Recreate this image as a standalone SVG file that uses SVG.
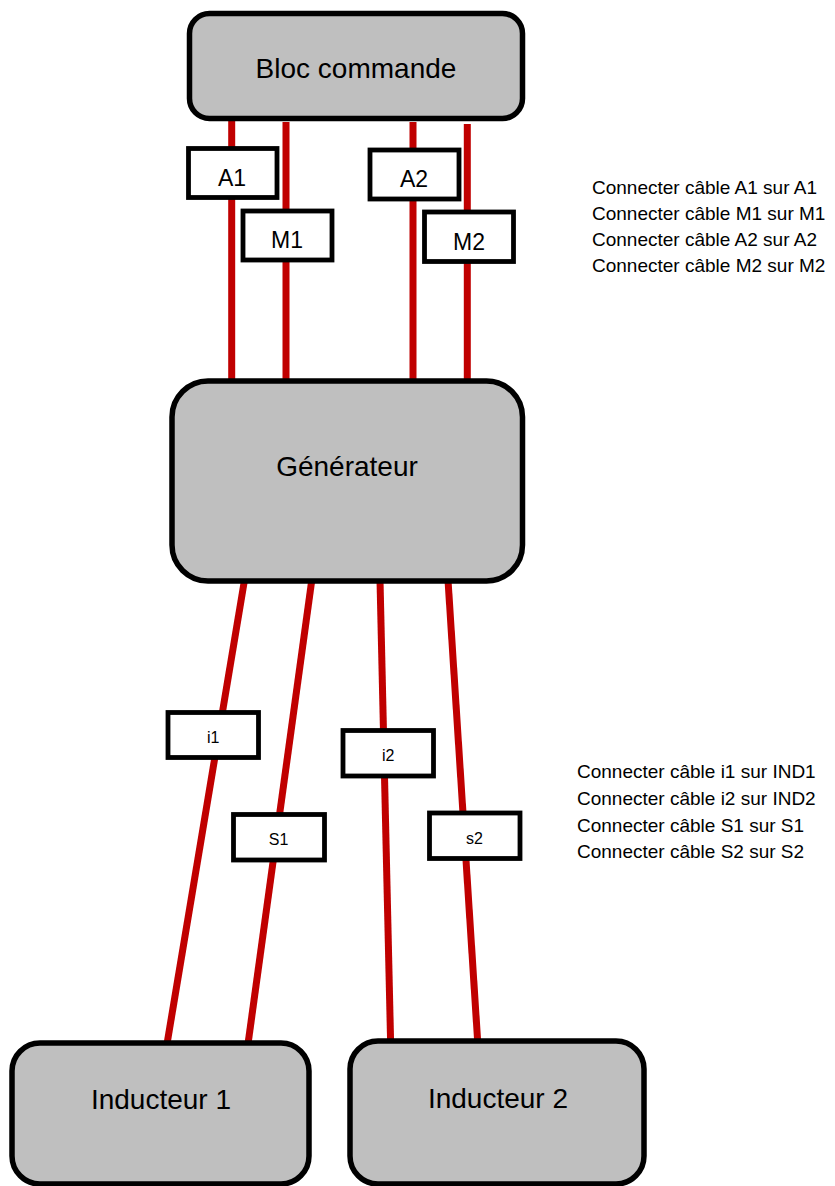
<svg xmlns="http://www.w3.org/2000/svg" width="835" height="1186" viewBox="0 0 835 1186">
<style>
.node{fill:#BFBFBF;stroke:#000;stroke-width:5.5}
.lbl{fill:#fff;stroke:#000;stroke-width:4.8}
.wire{stroke:#C00000;stroke-width:7;fill:none}
text{font-family:"Liberation Sans",Arial,sans-serif;fill:#000;text-anchor:middle}
.big{font-size:28px}
.mid{font-size:23px}
.sm{font-size:16px}
.note{font-size:19px;text-anchor:start}
</style>
<g id="connectors">
<line class="wire" x1="231.7" y1="119" x2="231.7" y2="382"/>
<line class="wire" x1="286" y1="122" x2="286" y2="382"/>
<line class="wire" x1="413" y1="122" x2="413" y2="382"/>
<line class="wire" x1="467.3" y1="124" x2="467.3" y2="382"/>
<line class="wire" x1="244.5" y1="580" x2="167" y2="1044"/>
<line class="wire" x1="311.8" y1="580" x2="248" y2="1044"/>
<line class="wire" x1="380" y1="580" x2="390.6" y2="1042"/>
<line class="wire" x1="448" y1="580" x2="477.7" y2="1042"/>
</g>
<g id="bloc-commande">
<rect class="node" x="189.5" y="13.5" width="333" height="105" rx="20"/>
<text class="big" x="356" y="78">Bloc commande</text>
</g>
<g id="generateur">
<rect class="node" x="172" y="381" width="350.5" height="200" rx="36"/>
<text class="big" x="347" y="476">Générateur</text>
</g>
<g id="inducteur-1">
<rect class="node" x="12" y="1043" width="297" height="141" rx="28"/>
<text class="big" x="161" y="1109">Inducteur 1</text>
</g>
<g id="inducteur-2">
<rect class="node" x="350" y="1041" width="294" height="143" rx="28"/>
<text class="big" x="498" y="1108">Inducteur 2</text>
</g>
<g id="label-A1">
<rect class="lbl" x="188.5" y="148.5" width="88.5" height="49"/>
<text class="mid" x="232" y="186">A1</text>
</g>
<g id="label-M1">
<rect class="lbl" x="243" y="211" width="89" height="49"/>
<text class="mid" x="287" y="248">M1</text>
</g>
<g id="label-A2">
<rect class="lbl" x="370" y="150" width="89" height="49"/>
<text class="mid" x="414" y="187">A2</text>
</g>
<g id="label-M2">
<rect class="lbl" x="424.5" y="212" width="89" height="49.5"/>
<text class="mid" x="469" y="249.5">M2</text>
</g>
<g id="label-i1">
<rect class="lbl" x="168" y="712.5" width="90.5" height="45"/>
<text class="sm" x="213.3" y="743">i1</text>
</g>
<g id="label-i2">
<rect class="lbl" x="343" y="730.5" width="90.5" height="45.5"/>
<text class="sm" x="388.3" y="761">i2</text>
</g>
<g id="label-S1">
<rect class="lbl" x="233.5" y="814.5" width="91" height="45.5"/>
<text class="sm" x="278.5" y="845">S1</text>
</g>
<g id="label-s2">
<rect class="lbl" x="429.5" y="813" width="90.5" height="45.5"/>
<text class="sm" x="474.5" y="843.5">s2</text>
</g>
<g id="notes-top">
<text class="note" x="592" y="194">Connecter câble A1 sur A1</text>
<text class="note" x="592" y="220">Connecter câble M1 sur M1</text>
<text class="note" x="592" y="246">Connecter câble A2 sur A2</text>
<text class="note" x="592" y="272">Connecter câble M2 sur M2</text>
</g>
<g id="notes-bottom">
<text class="note" x="577" y="778">Connecter câble i1 sur IND1</text>
<text class="note" x="577" y="805">Connecter câble i2 sur IND2</text>
<text class="note" x="577" y="831.5">Connecter câble S1 sur S1</text>
<text class="note" x="577" y="857.5">Connecter câble S2 sur S2</text>
</g>
</svg>
